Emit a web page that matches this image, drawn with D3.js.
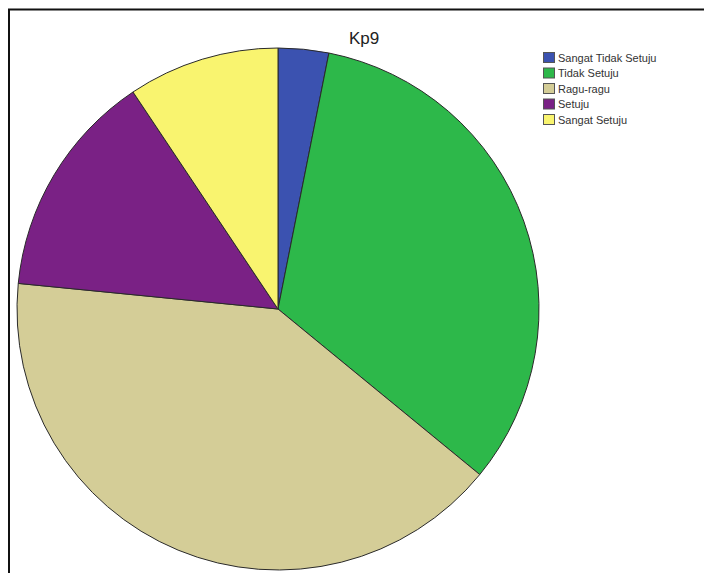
<!DOCTYPE html>
<html>
<head>
<meta charset="utf-8">
<script src="https://cdn.jsdelivr.net/npm/d3@7"></script>
<style>
  html, body { margin: 0; padding: 0; background: #fff; }
  svg { display: block; }
</style>
</head>
<body>
<svg id="chart" width="704" height="573"></svg>
<script>
// Response counts for item Kp9
const categories = ["Sangat Tidak Setuju", "Tidak Setuju", "Ragu-ragu", "Setuju", "Sangat Setuju"];
const counts = [2, 21, 26, 9, 6];
const colors = ["#3b52b0", "#2db84a", "#d4cd97", "#7a2185", "#f9f46f"];
const title = "Kp9";

const svg = d3.select("#chart");
const W = 704, H = 573;

// frame lines along the top and left
svg.append("path")
  .attr("d", `M9,${H} L9,9.5 L${W},9.5`)
  .attr("fill", "none")
  .attr("stroke", "#111")
  .attr("stroke-width", 2);

const data = categories.map((c, i) => ({ cat: c, value: counts[i], color: colors[i] }));

const cx = 278, cy = 309, r = 261;
const pie = d3.pie().value(d => d.value).sort(null);
const arc = d3.arc().innerRadius(0).outerRadius(r);

const g = svg.append("g").attr("transform", `translate(${cx},${cy})`);
g.selectAll("path.slice")
  .data(pie(data))
  .join("path")
  .attr("class", "slice")
  .attr("d", arc)
  .attr("fill", d => d.data.color)
  .attr("stroke", "#2a2a2a")
  .attr("stroke-width", 1)
  .attr("stroke-linejoin", "round");

svg.append("text")
  .attr("x", 364)
  .attr("y", 44)
  .attr("text-anchor", "middle")
  .attr("font-family", "Liberation Sans, Arial, sans-serif")
  .attr("font-size", 17)
  .attr("fill", "#222")
  .text(title);

// legend
const leg = svg.append("g").attr("transform", "translate(543,52)");
const rows = leg.selectAll("g.row")
  .data(data)
  .join("g")
  .attr("class", "row")
  .attr("transform", (d, i) => `translate(0,${i * 15.5})`);
rows.append("rect")
  .attr("x", 0.5).attr("y", 0.5)
  .attr("width", 11).attr("height", 10)
  .attr("fill", d => d.color)
  .attr("stroke", "#555")
  .attr("stroke-width", 1);
rows.append("text")
  .attr("x", 15)
  .attr("y", 9.5)
  .attr("font-family", "Liberation Sans, Arial, sans-serif")
  .attr("font-size", 11)
  .attr("fill", "#333")
  .text(d => d.cat);
</script>
</body>
</html>
